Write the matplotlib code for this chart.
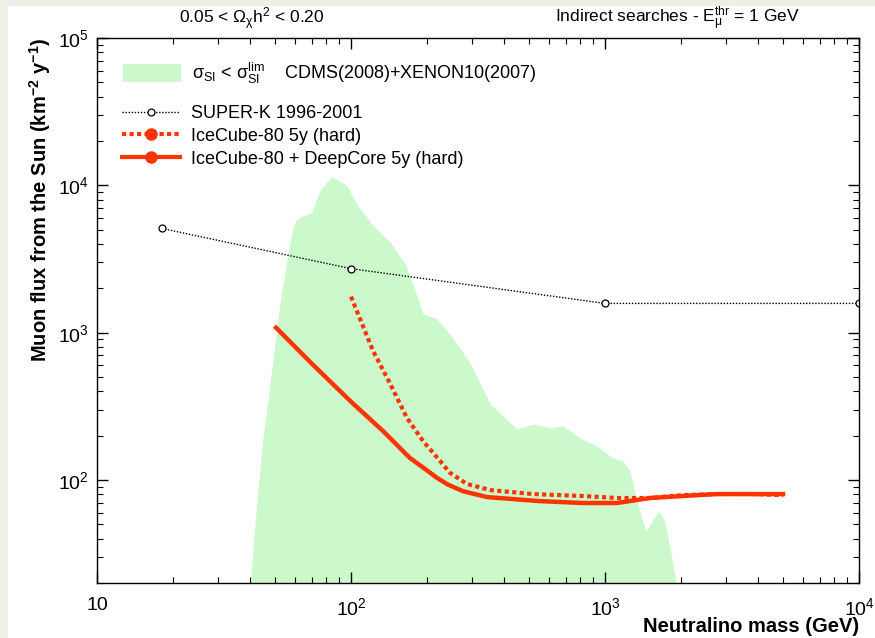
import matplotlib
matplotlib.use("Agg")
import matplotlib.pyplot as plt
from matplotlib.lines import Line2D
from matplotlib.patches import Patch, Rectangle
import numpy as np

plt.rcParams['font.family'] = ['Liberation Sans', 'DejaVu Sans']
plt.rcParams['mathtext.fontset'] = 'custom'
plt.rcParams['mathtext.rm'] = 'Liberation Sans'
plt.rcParams['mathtext.it'] = 'Liberation Sans:italic'
plt.rcParams['mathtext.bf'] = 'Liberation Sans:bold'

# allowed region (CDMS+XENON10), upper envelope
region_mass = [39.0, 42.5, 45.0, 48.7, 52.5, 56.5, 59.1, 61.1, 70.0, 75.5, 83.9,
               96.1, 105, 122, 142.5, 163, 175, 192, 217, 245, 294, 353, 449,
               521, 607, 684, 798, 930, 1075, 1177, 1254, 1337, 1449, 1559,
               1633, 1722, 1803, 1905, 1950]
region_flux = [11, 68.7, 193, 551, 1574, 3446, 5176, 5869, 6580, 9250, 11510,
               10000, 7550, 5346, 4113, 2944, 2155, 1345, 1245, 985, 625, 329,
               222, 240, 226, 233, 193, 170, 141, 135, 115, 72, 45, 55, 61.5,
               52.6, 34.5, 20.2, 15]

# Super-K 1996-2001
sk_mass = [18, 100, 1000, 10000]
sk_flux = [5100, 2720, 1580, 1580]

# IceCube-80 5y (hard)
ic_mass = [100, 122, 142.6, 166, 192, 224, 245, 286, 353, 521, 819, 1114,
           1503, 2026, 2758, 3724, 5023]
ic_flux = [1758, 755, 450, 264, 184, 135, 112, 94, 85.5, 80.3, 77.9, 75.5,
           75.5, 79, 80.3, 80.3, 79]

# IceCube-80 + DeepCore 5y (hard)
dc_mass = [50.7, 70.2, 99.1, 133.7, 170.6, 193, 217, 241, 276, 343, 554, 819,
           1114, 1503, 2026, 2758, 3724, 5023]
dc_flux = [1081, 615, 345, 215, 141, 121, 104, 93, 84, 76.6, 71.9, 69.8,
           69.8, 75.5, 77.9, 80.3, 80.3, 80.3]

green = '#ccf9cc'
red = '#ff3300'

fig = plt.figure(figsize=(8.75, 6.38), dpi=100, facecolor='#efefe8')
fig.patches.append(Rectangle((8 / 875, 0), 1, 1 - 6 / 638, transform=fig.transFigure,
                             facecolor='white', edgecolor='none', zorder=-1))
ax = fig.add_axes([97 / 875, 1 - 583 / 638, (859 - 97) / 875, (583 - 38) / 638])

ax.fill_between(region_mass, region_flux, 1, color=green, linewidth=0)
ax.plot(sk_mass, sk_flux, color='black', lw=1, ls=(0, (1, 1.2)),
        marker='o', ms=5, mfc='white', mec='black', mew=0.9)
ax.plot(ic_mass, ic_flux, color=red, lw=3, ls=(0, (1, 0.8)))
ax.plot(dc_mass, dc_flux, color=red, lw=3.2)

ax.set_xscale('log')
ax.set_yscale('log')
ax.set_xlim(10, 1e4)
ax.set_ylim(20, 1e5)

ax.set_xticks([10, 100, 1000, 10000])
ax.set_xticklabels(['10', r'$10^{2}$', r'$10^{3}$', r'$10^{4}$'])
ax.set_yticks([100, 1000, 10000, 100000])
ax.set_yticklabels([r'$10^{2}$', r'$10^{3}$', r'$10^{4}$', r'$10^{5}$'])
ax.tick_params(which='both', direction='in', top=True, right=True, labelsize=14)
ax.tick_params(which='major', length=8, width=1)
ax.tick_params(which='minor', length=4, width=0.8)
ax.tick_params(axis='x', pad=10)
ax.tick_params(axis='y', pad=6)
for s in ax.spines.values():
    s.set_linewidth(1)

fig.text(859 / 875, 1 - 627 / 638, 'Neutralino mass (GeV)', fontsize=14.5,
         fontweight='bold', ha='right', va='center')
fig.text(40 / 875, 1 - 38 / 638,
         r'Muon flux from the Sun (km$^{\mathbf{-2}}$ y$^{\mathbf{-1}}$)',
         fontsize=14.5, fontweight='bold', rotation=90, ha='center', va='top')

fig.text(252 / 875, 1 - 19 / 638, r'0.05 < Ω$_{\mathrm{χ}}$h$^{2}$ < 0.20',
         ha='center', va='center', fontsize=12.5)
fig.text(800 / 875, 1 - 19 / 638,
         r'Indirect searches - E$_{\mathrm{μ}}^{\mathrm{thr}}$ = 1 GeV',
         ha='right', va='center', fontsize=12.5)

h1 = [Patch(facecolor=green, edgecolor='none')]
l1 = [r'σ$_{\mathrm{SI}}$ < σ$_{\mathrm{SI}}^{\mathrm{lim}}$    CDMS(2008)+XENON10(2007)']
leg1 = ax.legend(h1, l1, loc='upper left', bbox_to_anchor=(123 / 875, 1 - 61 / 638),
                 bbox_transform=fig.transFigure, frameon=False, fontsize=13,
                 handlelength=3.2, handleheight=1.2, handletextpad=0.6,
                 borderpad=0, borderaxespad=0)
ax.add_artist(leg1)

h2 = [Line2D([], [], color='black', lw=1, ls=(0, (1, 1.2)), marker='o', ms=5,
             mfc='white', mec='black', mew=0.9),
      Line2D([], [], color=red, lw=3, ls=(0, (1, 0.8)), marker='o', ms=8),
      Line2D([], [], color=red, lw=3, marker='o', ms=8)]
l2 = ['SUPER-K 1996-2001', 'IceCube-80 5y (hard)', 'IceCube-80 + DeepCore 5y (hard)']
ax.legend(h2, l2, loc='upper left', bbox_to_anchor=(122 / 875, 1 - 105 / 638),
          bbox_transform=fig.transFigure, frameon=False, fontsize=13,
          handlelength=3.2, handletextpad=0.6, labelspacing=0.32,
          borderpad=0, borderaxespad=0)

fig.savefig('out.png', dpi=100, facecolor=fig.get_facecolor())
